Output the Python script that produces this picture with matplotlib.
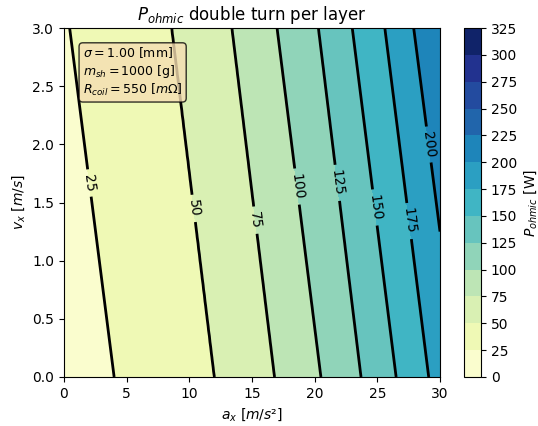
import numpy as np
import matplotlib
matplotlib.use("Agg")
import matplotlib.pyplot as plt

# Contour levels (W) and where each iso-line crosses the bottom (v=0) and top (v=3) edges
line_levels = [25, 50, 75, 100, 125, 150, 175, 200]
a_at_v0 = [4.0, 12.0, 16.8, 20.5, 23.7, 26.5, 29.1, 31.5]
a_at_v3 = [0.45, 8.6, 13.4, 17.0, 20.3, 23.0, 25.6, 27.9]

fill_levels = list(range(0, 326, 25))
cbar_ticks = list(range(0, 326, 25))
x_ticks = [0, 5, 10, 15, 20, 25, 30]
y_ticks = [0.0, 0.5, 1.0, 1.5, 2.0, 2.5, 3.0]

info_lines = [r"$\sigma = 1.00$ [mm]", r"$m_{sh} = 1000$ [g]", r"$R_{coil} = 550$ [$m\Omega$]"]


def interp_extrap(x, xp, fp):
    xp = np.asarray(xp, float)
    fp = np.asarray(fp, float)
    y = np.interp(x, xp, fp)
    lo = x < xp[0]
    hi = x > xp[-1]
    s0 = (fp[1] - fp[0]) / (xp[1] - xp[0])
    s1 = (fp[-1] - fp[-2]) / (xp[-1] - xp[-2])
    y[lo] = fp[0] + s0 * (x[lo] - xp[0])
    y[hi] = fp[-1] + s1 * (x[hi] - xp[-1])
    return y


a = np.linspace(0, 30, 301)
v = np.linspace(0, 3, 61)
A, V = np.meshgrid(a, v)
Z = np.zeros_like(A)
a0 = np.array(a_at_v0)
a3 = np.array(a_at_v3)
for i, vi in enumerate(v):
    ak = a0 + (a3 - a0) * vi / 3.0
    Z[i, :] = interp_extrap(a, ak, line_levels)

fig = plt.figure(figsize=(5.38, 4.26), dpi=100)
ax = fig.add_axes([64 / 538, 49 / 426, 376 / 538, 349 / 426])
cax = fig.add_axes([464 / 538, 49 / 426, 17 / 538, 349 / 426])

cf = ax.contourf(A, V, Z, levels=fill_levels, cmap="YlGnBu")
cs = ax.contour(A, V, Z, levels=line_levels, colors="black", linewidths=2)
ax.clabel(cs, fmt="%d", fontsize=10,
          manual=[(2.2, 1.67), (10.4, 1.45), (15.4, 1.35), (18.8, 1.64),
                  (21.9, 1.67), (25.0, 1.46), (27.5, 1.34), (29.2, 2.0)])

ax.set_xticks(x_ticks)
ax.set_yticks(y_ticks)
ax.set_xlim(0, 30)
ax.set_ylim(0, 3)
ax.set_xlabel(r"$a_x$ $[m/s²]$")
ax.set_ylabel(r"$v_x$ $[m/s]$")
ax.set_title(r"$P_{ohmic}$ double turn per layer")

ax.text(0.05, 0.95, "\n".join(info_lines), transform=ax.transAxes, fontsize=9,
        va="top", ha="left",
        bbox=dict(boxstyle="round", facecolor="wheat", alpha=0.8))

cb = fig.colorbar(cf, cax=cax, ticks=cbar_ticks)
cb.set_label(r"$P_{ohmic}$ [W]")

fig.savefig("out.png", dpi=100)
